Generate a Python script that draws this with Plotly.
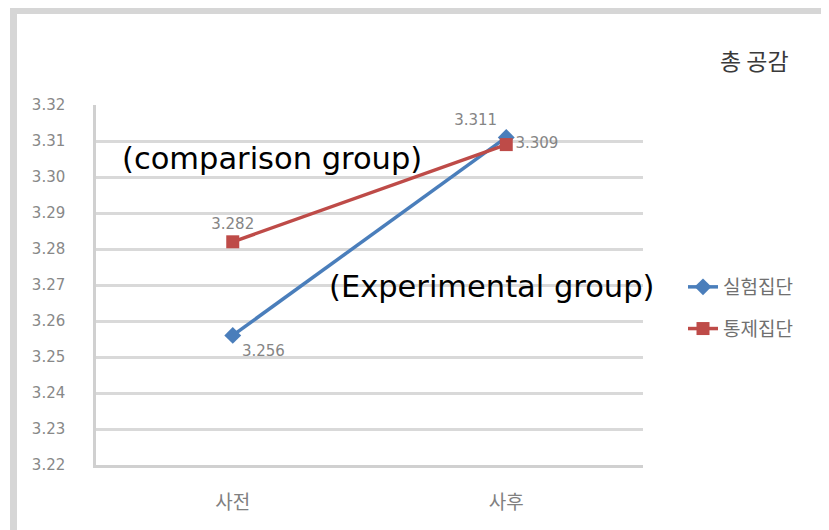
import plotly.graph_objects as go

# 총 공감 - 사전/사후 평균
categories = ["사전", "사후"]
exp_name = "실험집단"
ctrl_name = "통제집단"
exp_values = [3.256, 3.311]
ctrl_values = [3.282, 3.309]
y_ticks = [3.22, 3.23, 3.24, 3.25, 3.26, 3.27, 3.28, 3.29, 3.30, 3.31, 3.32]

BLUE = "#4a7ebb"
RED = "#be4b48"
GRID = "#d9d9d9"
FONT = "DejaVu Sans, Noto Sans CJK KR, sans-serif"
KFONT = "Noto Sans CJK KR, DejaVu Sans, sans-serif"

# plot area in reference pixels (page body adds an 8px offset)
OFF = 8
L, R, T, B = 96, 643, 105, 465
W, H = R - L, B - T


def px(x):
    return (x - L) / W


def py(y):
    return (B - y) / H


fig = go.Figure()

fig.add_trace(go.Scatter(
    x=categories, y=exp_values, name=exp_name,
    mode="lines+markers+text",
    line=dict(color=BLUE, width=3.5),
    marker=dict(symbol="diamond", size=13, color=BLUE),
    text=[f"{v:.3f}" for v in exp_values],
    textposition=["bottom right", "top left"],
    textfont=dict(family=FONT, size=15, color="#858585"),
    legendgroup="a",
))
fig.add_trace(go.Scatter(
    x=categories, y=ctrl_values, name=ctrl_name,
    mode="lines+markers+text",
    line=dict(color=RED, width=3.5),
    marker=dict(symbol="square", size=13, color=RED),
    text=[f"{v:.3f}" for v in ctrl_values],
    textposition=["top center", "middle right"],
    textfont=dict(family=FONT, size=15, color="#858585"),
    legendgroup="b",
))

fig.update_layout(
    width=829, height=530,
    margin=dict(l=L - OFF, r=829 - (R - OFF), t=T - OFF, b=530 - (B - OFF)),
    paper_bgcolor="white",
    plot_bgcolor="white",
    font=dict(family=KFONT, size=12, color="#777777"),
    showlegend=True,
    legend=dict(
        x=px(683), y=py(268), xanchor="left", yanchor="top",
        traceorder="grouped", tracegroupgap=14,
        font=dict(family=KFONT, size=19, color="#707070"),
        bgcolor="rgba(0,0,0,0)",
    ),
    xaxis=dict(
        type="category", range=[-0.5, 1.5],
        showgrid=False, zeroline=False,
        showline=True, linecolor="#d0d0d0", linewidth=3,
        ticks="", ticklabelstandoff=18,
        tickfont=dict(family=KFONT, size=19, color="#808080"),
        fixedrange=True,
    ),
    yaxis=dict(
        range=[3.22, 3.32],
        tickvals=y_ticks,
        ticktext=[f"{v:.2f}" for v in y_ticks],
        showgrid=True, gridcolor=GRID, gridwidth=2.5,
        zeroline=False,
        showline=True, linecolor="#d0d0d0", linewidth=2.5,
        ticks="", ticklabelstandoff=25,
        tickfont=dict(family=FONT, size=15, color="#888888"),
        fixedrange=True,
    ),
    shapes=[
        # grey frame on top and left edges of the picture
        dict(type="rect", xref="paper", yref="paper",
             x0=px(10), x1=px(840), y0=py(14), y1=py(7),
             fillcolor="#d6d6d6", line=dict(width=0), layer="below"),
        dict(type="rect", xref="paper", yref="paper",
             x0=px(10), x1=px(17), y0=py(540), y1=py(7),
             fillcolor="#d6d6d6", line=dict(width=0), layer="below"),
    ],
    annotations=[
        dict(text="총 공감", xref="paper", yref="paper",
             x=px(754), y=py(60), xanchor="center", yanchor="middle",
             showarrow=False,
             font=dict(family=KFONT, size=23, color="#3a3a3a")),
        dict(text="(comparison group)", xref="paper", yref="paper",
             x=px(272), y=py(158), xanchor="center", yanchor="middle",
             showarrow=False,
             font=dict(family=FONT, size=30.5, color="black")),
        dict(text="(Experimental group)", xref="paper", yref="paper",
             x=px(491), y=py(286), xanchor="center", yanchor="middle",
             showarrow=False,
             font=dict(family=FONT, size=30.5, color="black")),
    ],
)

fig.write_html("out.html")
